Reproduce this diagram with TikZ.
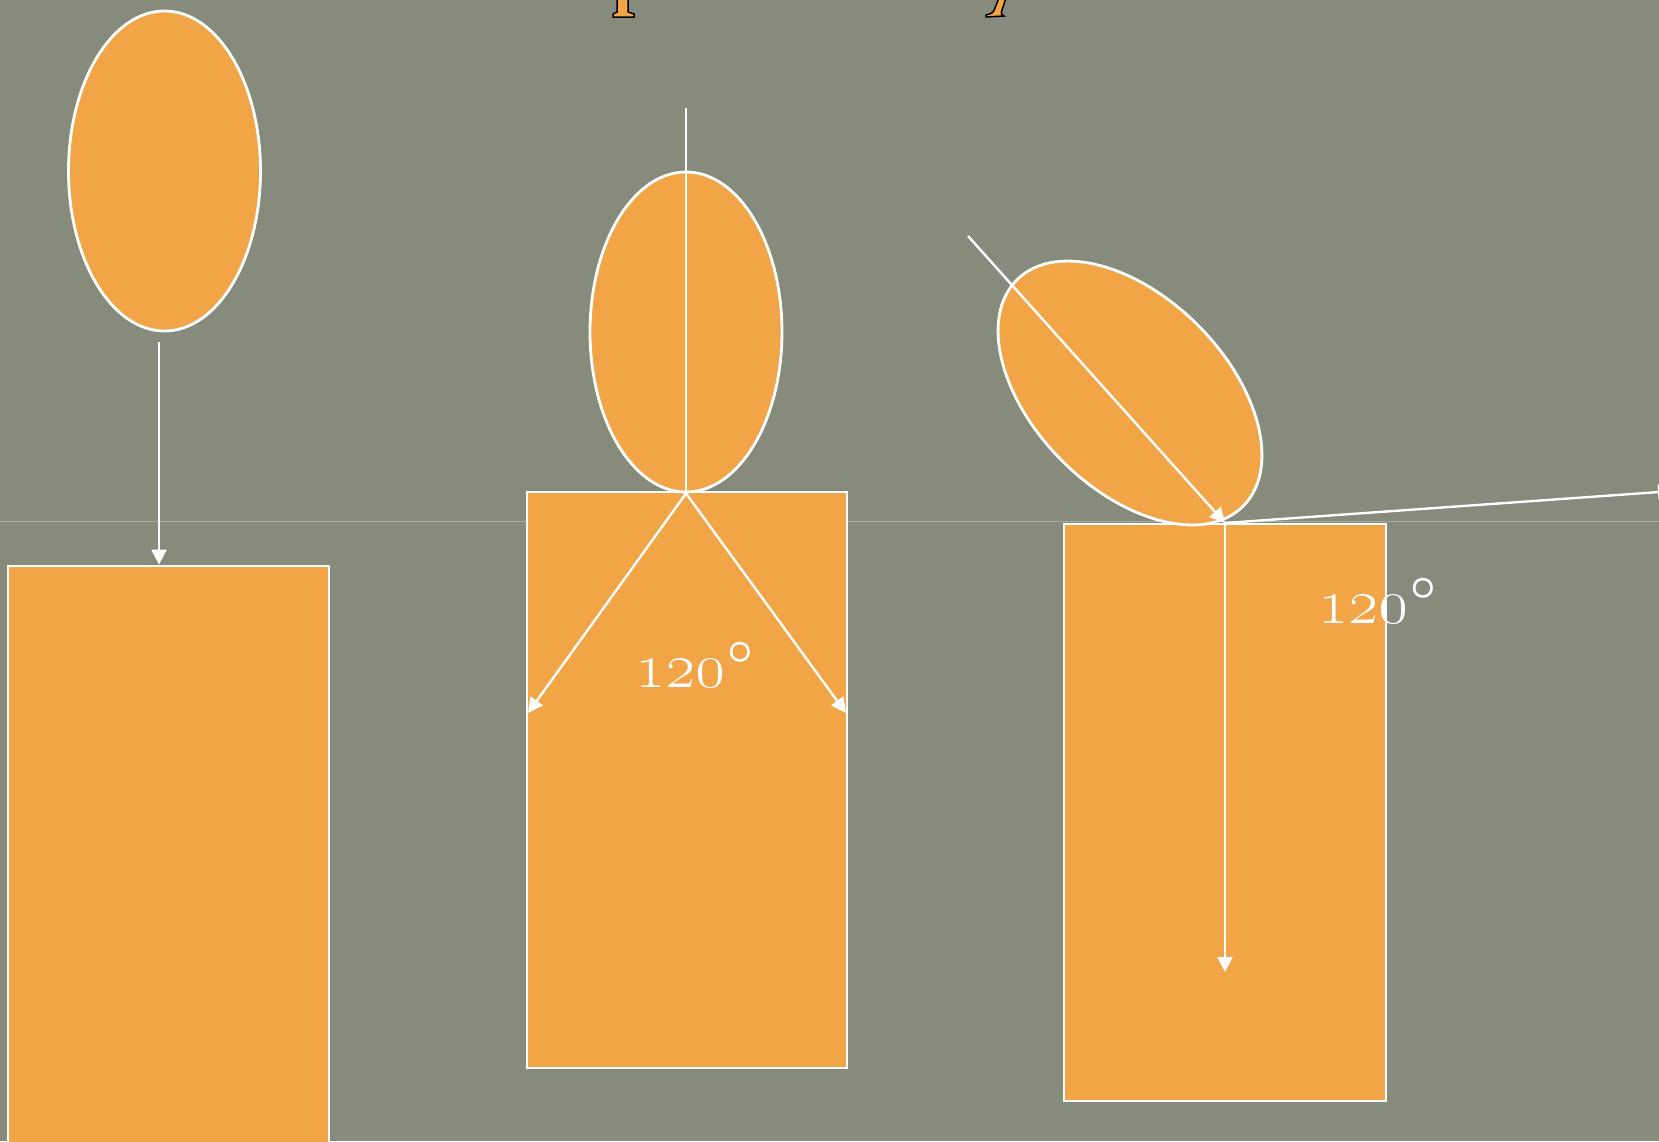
\documentclass[tikz,border=0pt]{standalone}
\usepackage{fix-cm}
\usetikzlibrary{arrows.meta,shapes.geometric}
\definecolor{bg}{RGB}{134,139,124}
\definecolor{org}{RGB}{242,165,70}
\definecolor{faint}{RGB}{168,172,158}
\begin{document}
\begin{tikzpicture}[x=1pt,y=-1pt,
  shapeline/.style={draw=white, line width=2.8pt, fill=org},
  oval/.style={shapeline, ellipse, minimum width=192pt, minimum height=320pt, inner sep=0pt},
  box/.style={shapeline, rectangle, inner sep=0pt},
  vec/.style={draw=white, line width=2.4pt, -{Triangle[length=15pt,width=15pt]}},
  stick/.style={draw=white, line width=2.4pt},
  deg/.style={text=white, inner sep=0pt, anchor=base west, font=\fontsize{64}{70}\selectfont\bfseries\boldmath},
  glyph/.style={fill=org, draw=black, line width=1.5pt}]
\useasboundingbox (0,0) rectangle (1659,1141);
\clip (0,0) rectangle (1659,1141);
\fill[bg] (0,0) rectangle (1659,1141);
\draw[faint, line width=1pt] (0,521) -- (1659,521);
% cropped title glyph fragments
\path[glyph] (617,-2) -- (628,-2) -- (628,12) -- (634,14) -- (634,17) -- (613,17) -- (613,14) -- (617,12) -- cycle;
\path[glyph] (999,-2) -- (1006,-2) -- (1002,10) .. controls (1001,14) .. (1004,16) -- (986,17) -- (986,15) .. controls (993,13) .. (995,8) -- cycle;
% boxes
\node[box, minimum width=321pt, minimum height=600pt] (r1) at (168.5,866) {};
\node[box, minimum width=320pt, minimum height=576pt] (r2) at (687,780) {};
\node[box, minimum width=322pt, minimum height=577pt] (r3) at (1225,812.5) {};
% ovals
\node[oval] (e1) at (164.5,171) {};
\node[oval] (e2) at (686,332) {};
\node[oval, rotate=45] (e3) at (1130,393) {};
% coordinates
\coordinate (a1s) at (159,342);
\coordinate (t2) at (686,108);
\coordinate (l2) at (528,713);
\coordinate (r2e) at (846,713);
\coordinate (t3) at (968,236);
\coordinate (c3) at (1225,523);
\coordinate (d3) at (1225,972);
\coordinate (x3) at (1673,491);
% connectors
\draw[vec] (a1s) -- (a1s |- r1.north);
\draw[stick] (t2) -- (e2.south);
\draw[vec] (e2.south) -- (l2);
\draw[vec] (e2.south) -- (r2e);
\draw[vec] (t3) -- (c3);
\draw[vec] (c3) -- (d3);
\draw[vec] (c3) -- (x3);
% labels
\node[deg] (lab1) at (635,687) {\oldstylenums{120}\kern2pt$^{\circ}$};
\node[deg] (lab2) at (1318,623) {\oldstylenums{120}\kern2pt$^{\circ}$};
\end{tikzpicture}
\end{document}
